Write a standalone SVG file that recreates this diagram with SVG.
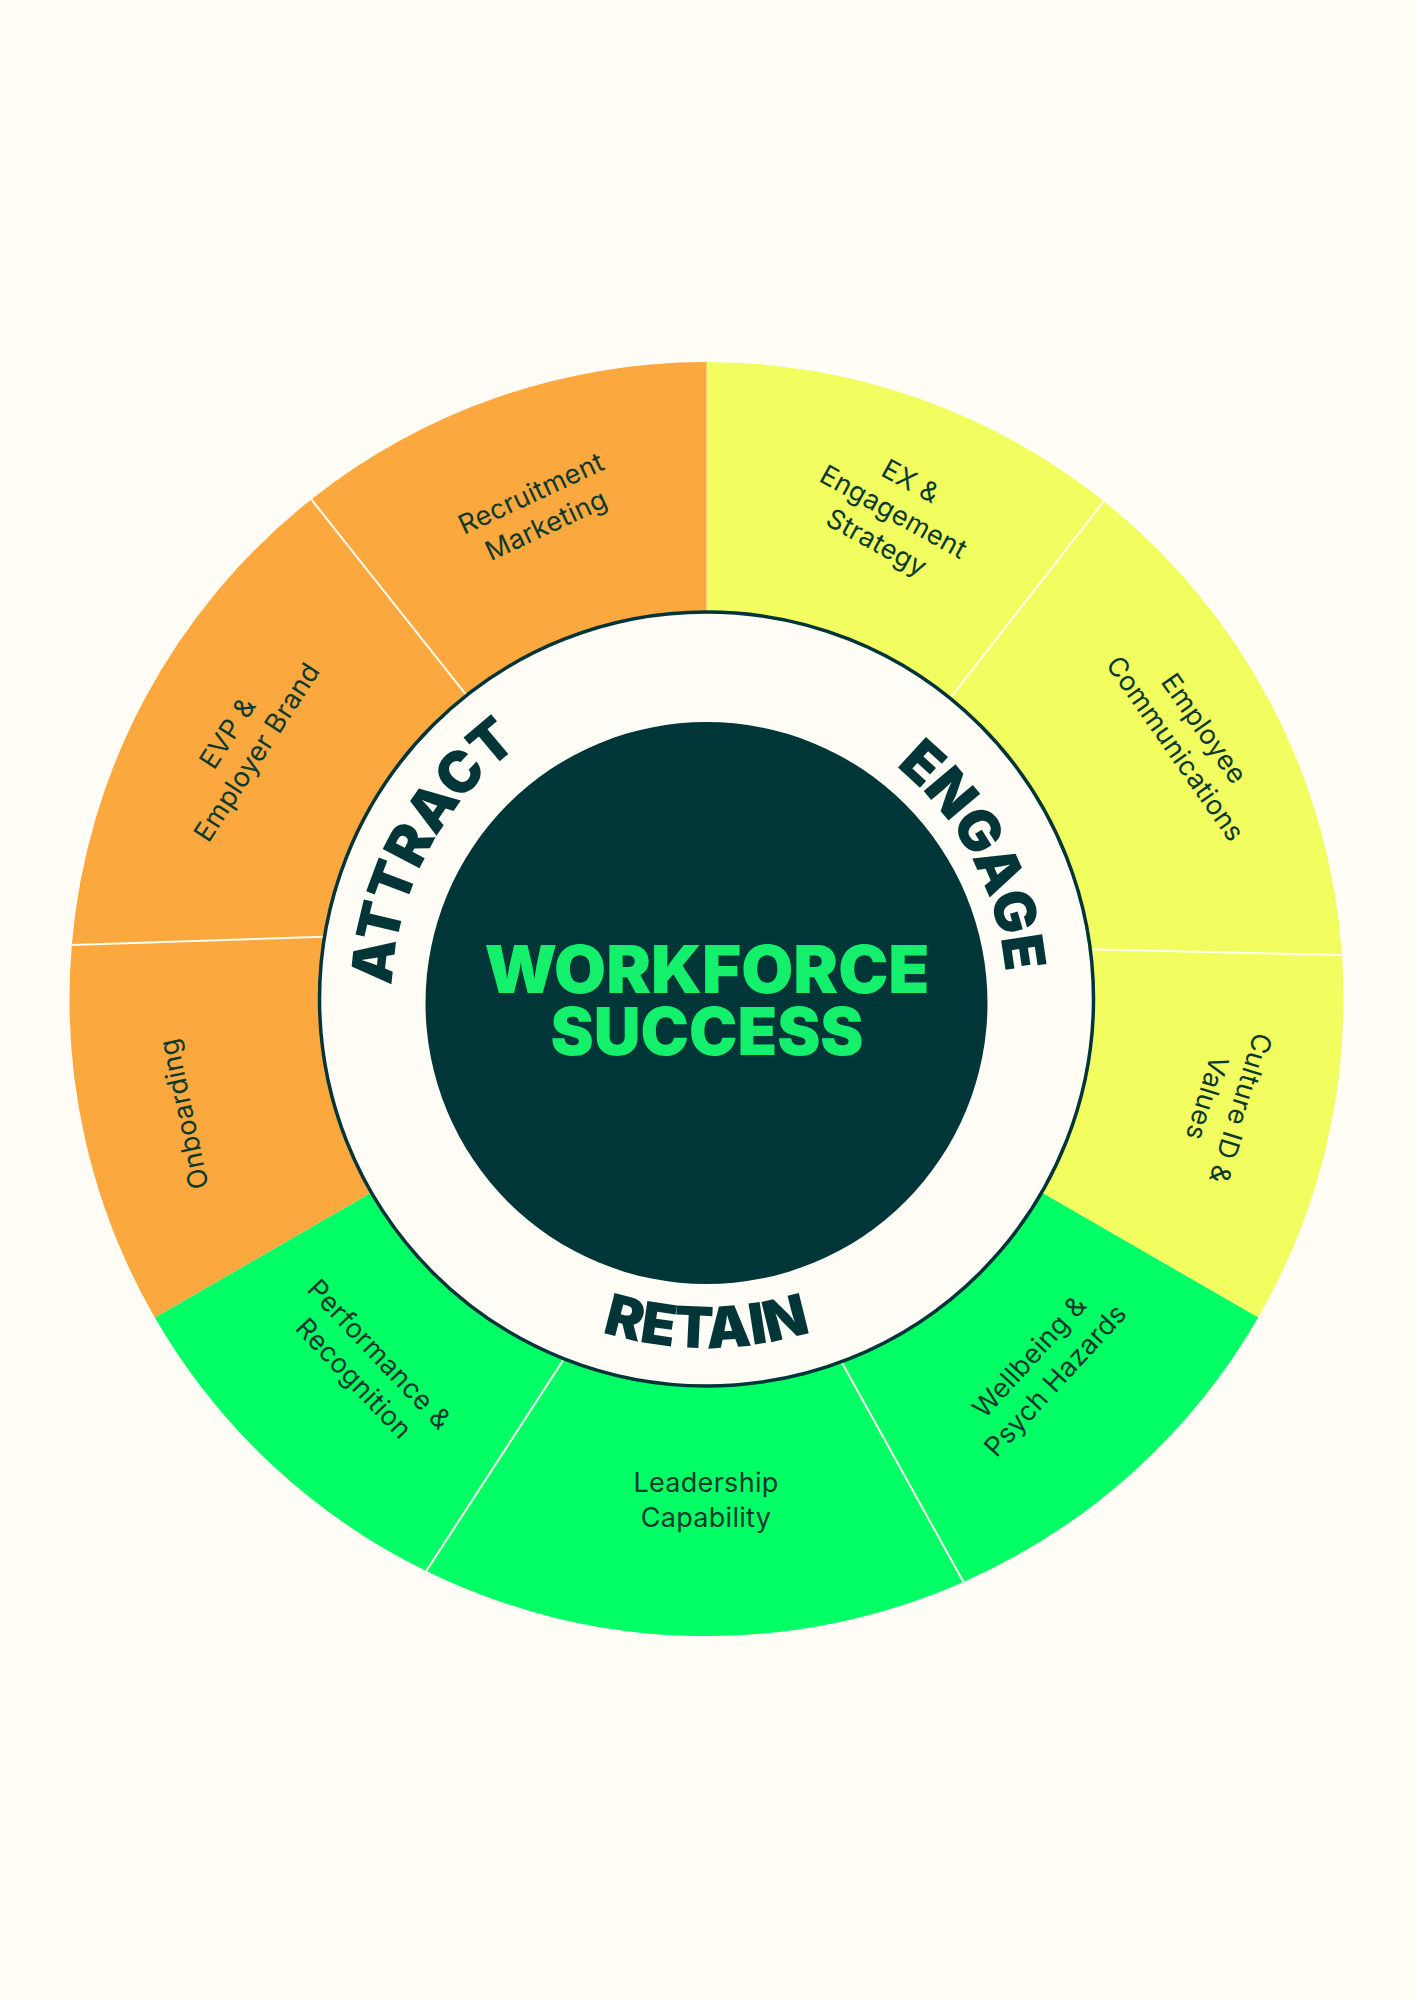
<svg xmlns="http://www.w3.org/2000/svg" width="1414" height="2000" viewBox="0 0 1414 2000">
<style>
.bg{fill:#FFFDF6}
.orange{fill:#FBA83F}
.yellow{fill:#F2FE60}
.green{fill:#02FF66}
.sep{stroke:#FFFDF0;stroke-width:2;fill:none}
.ring{fill:#FFFDF6;stroke:#023537;stroke-width:3.5}
.core{fill:#013638}
.lbl{font-family:Inter,"Noto Sans","Liberation Sans",sans-serif;font-size:27px;fill:#0B3A2C;text-anchor:middle;letter-spacing:0.3px}
.arc{font-family:Inter,"Noto Sans","Liberation Sans",sans-serif;font-size:57px;font-weight:900;fill:#023537}
.title{font-family:Inter,"Noto Sans","Liberation Sans",sans-serif;font-size:66px;font-weight:900;fill:#14F06C;text-anchor:middle}
</style>
<defs>
<path id="p-attract" d="M558.6,1277.1 A315,315 0 0 1 428.4,851.1 A315,315 0 0 1 854.4,720.9"/>
<path id="p-engage" d="M565.6,734.1 A300,300 0 0 1 971.4,858.1 A300,300 0 0 1 847.4,1263.9"/>
<path id="p-retain" d="M357.5,999 A349,349 0 0 0 706.5,1348 A349,349 0 0 0 1055.5,999"/>
</defs>
<rect class="bg" x="0" y="0" width="1414" height="2000"/>

<g id="ex-engagement-strategy">
<path class="yellow" d="M706.5,362 A637,637 0 0 1 1103.9,501.2 L950,698.3 A387,387 0 0 0 706.5,612 Z"/>
<g transform="translate(893,513) rotate(29)"><text class="lbl" x="0" y="-27">EX &amp;</text><text class="lbl" x="0" y="8">Engagement</text><text class="lbl" x="0" y="43">Strategy</text></g>
</g>
<g id="employee-communications">
<path class="yellow" d="M1103.9,501.2 A637,637 0 0 1 1342,955.1 L1090.3,949.2 A387,387 0 0 0 950,698.3 Z"/>
<g transform="translate(1189,739) rotate(55)"><text class="lbl" x="0" y="-9">Employee</text><text class="lbl" x="0" y="26">Communications</text></g>
</g>
<g id="culture-id-values">
<path class="yellow" d="M1342,955.1 A637,637 0 0 1 1258.2,1317.5 L1041.6,1192.5 A387,387 0 0 0 1090.3,949.2 Z"/>
<g transform="translate(1223,1103) rotate(107)"><text class="lbl" x="0" y="-9">Culture ID &amp;</text><text class="lbl" x="0" y="26">Values</text></g>
</g>
<g id="wellbeing-psych-hazards">
<path class="green" d="M1258.2,1317.5 A637,637 0 0 1 963.5,1581.9 L841.4,1361.7 A387,387 0 0 0 1041.6,1192.5 Z"/>
<g transform="translate(1043,1369) rotate(-47.5)"><text class="lbl" x="0" y="-9">Wellbeing &amp;</text><text class="lbl" x="0" y="26">Psych Hazards</text></g>
</g>
<g id="leadership-capability">
<path class="green" d="M963.5,1581.9 A637,637 0 0 1 426.2,1571.1 L564.1,1358.8 A387,387 0 0 0 841.4,1361.7 Z"/>
<g transform="translate(706,1501)"><text class="lbl" x="0" y="-9">Leadership</text><text class="lbl" x="0" y="26">Capability</text></g>
</g>
<g id="performance-recognition">
<path class="green" d="M426.2,1571.1 A637,637 0 0 1 154.8,1317.5 L371.4,1192.5 A387,387 0 0 0 564.1,1358.8 Z"/>
<g transform="translate(366,1367) rotate(46.5)"><text class="lbl" x="0" y="-9">Performance &amp;</text><text class="lbl" x="0" y="26">Recognition</text></g>
</g>
<g id="onboarding">
<path class="orange" d="M154.8,1317.5 A637,637 0 0 1 71.8,945 L324.5,936.8 A387,387 0 0 0 371.4,1192.5 Z"/>
<g transform="translate(184,1114) rotate(-102)"><text class="lbl" x="0" y="9">Onboarding</text></g>
</g>
<g id="evp-employer-brand">
<path class="orange" d="M71.8,945 A637,637 0 0 1 311.3,499.4 L466.6,695.3 A387,387 0 0 0 324.5,936.8 Z"/>
<g transform="translate(243,743) rotate(-57)"><text class="lbl" x="0" y="-9">EVP &amp;</text><text class="lbl" x="0" y="26">Employer Brand</text></g>
</g>
<g id="recruitment-marketing">
<path class="orange" d="M311.3,499.4 A637,637 0 0 1 706.5,362 L706.5,612 A387,387 0 0 0 466.6,695.3 Z"/>
<g transform="translate(539,510) rotate(-25)"><text class="lbl" x="0" y="-9">Recruitment</text><text class="lbl" x="0" y="26">Marketing</text></g>
</g>

<g id="separators">
<line class="sep" x1="466.6" y1="695.3" x2="311.3" y2="499.4"/>
<line class="sep" x1="324.5" y1="936.8" x2="71.8" y2="945"/>
<line class="sep" x1="564.1" y1="1358.8" x2="426.2" y2="1571.1"/>
<line class="sep" x1="841.4" y1="1361.7" x2="963.5" y2="1581.9"/>
<line class="sep" x1="1090.3" y1="949.2" x2="1342" y2="955.1"/>
<line class="sep" x1="950" y1="698.3" x2="1103.9" y2="501.2"/>
</g>

<g id="phase-ring">
<circle class="ring" cx="706.5" cy="999" r="387"/>
<text class="arc"><textPath href="#p-attract" startOffset="50%" text-anchor="middle">ATTRACT</textPath></text>
<text class="arc"><textPath href="#p-engage" startOffset="50%" text-anchor="middle">ENGAGE</textPath></text>
<text class="arc"><textPath href="#p-retain" startOffset="50%" text-anchor="middle">RETAIN</textPath></text>
</g>

<g id="workforce-success">
<circle class="core" cx="706.5" cy="1003" r="281"/>
<text class="title" x="707" y="993" textLength="445" lengthAdjust="spacingAndGlyphs">WORKFORCE</text>
<text class="title" x="707" y="1055" textLength="313" lengthAdjust="spacingAndGlyphs">SUCCESS</text>
</g>
</svg>
